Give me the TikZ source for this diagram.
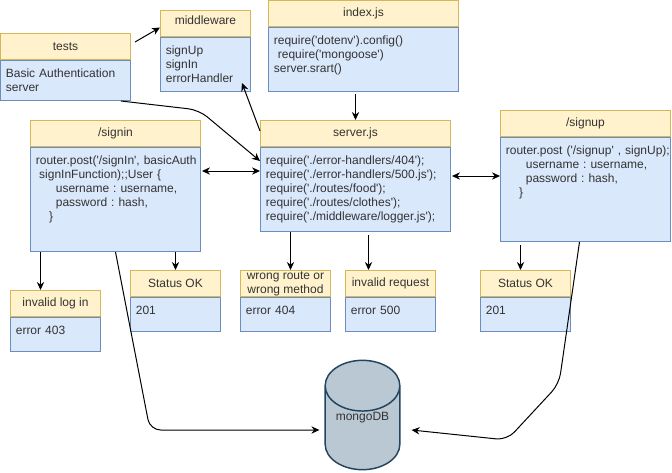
\documentclass[tikz,border=0pt]{standalone}
\usepackage{fontspec}
\setmainfont{Liberation Sans}[Ligatures=TeXOff]
\usetikzlibrary{positioning, arrows.meta, shapes.geometric}

\definecolor{headfill}{HTML}{FFF2CC}
\definecolor{headline}{HTML}{D6B656}
\definecolor{bodyfill}{HTML}{DAE8FC}
\definecolor{bodyline}{HTML}{6C8EBF}
\definecolor{dbfill}{HTML}{BAC8D3}
\definecolor{dbline}{HTML}{23445D}

\begin{document}
\begin{tikzpicture}[
            x=0.75pt, y=-0.75pt,
            every node/.style={font=\fontsize{9}{10.5}\selectfont\frenchspacing, text=black!80},
            head/.style={rectangle, draw=headline, fill=headfill, line width=0.75pt, align=center,
                inner sep=0pt, anchor=north west, minimum height=19.5pt, minimum width=#1*0.75pt},
            body/.style 2 args={rectangle, draw=bodyline, fill=bodyfill, line width=0.75pt, align=left,
                inner xsep=4pt, inner ysep=3pt, text width=#1*0.75pt-8pt, text height=10pt,
                text depth=#2*0.75pt-16pt},
            link/.style={-{Stealth[length=6pt, width=5.5pt]}, line width=0.75pt, black},
            both/.style={{Stealth[length=6pt, width=5.5pt]}-{Stealth[length=6pt, width=5.5pt]}, line width=0.75pt, black},
            bent/.style={link, rounded corners=8pt}
        ]
        \useasboundingbox (0,0) rectangle (672,472);

        % Top row
        \node[head=130] (testshead) at (0,33) {tests};
        \node[body={130}{40}, below=0pt of testshead] (testsbody) {Basic Authentication\\server};
        \node[head=90] (midhead) at (160,10) {\raisebox{4.5pt}{middleware}};
        \node[body={90}{54}, below=0pt of midhead] (midbody) {signUp\\signIn\\errorHandler};
        \node[head=190] (indexhead) at (268,0) {index.js};
        \node[body={190}{64}, below=0pt of indexhead] (indexbody) {require('dotenv').config()\\
            \hspace*{3pt}require('mongoose')\\server.srart()};

        % Middle row
        \node[head=170] (signinhead) at (30,120) {/signin};
        \node[body={170}{104}, below=0pt of signinhead] (signinbody) {\mbox{router.post('/signIn', basicAuth}\\
            \hspace*{2.5pt}signInFunction);;User \{\\
            \hspace*{15pt}username : username,\\
            \hspace*{15pt}password : hash,\\
            \hspace*{10pt}\}};
        \node[head=190] (serverhead) at (260,120) {server.js};
        \node[body={190}{84}, below=0pt of serverhead] (serverbody) {require('./error-handlers/404');\\
            require('./error-handlers/500.js');\\
            require('./routes/food');\\
            require('./routes/clothes');\\
            require('./middleware/logger.js');};
        \node[head=170] (signuphead) at (500,110) {/signup};
        \node[body={170}{104}, below=0pt of signuphead] (signupbody) {\mbox{router.post ('/signup' , signUp);}\\
            \hspace*{15pt}username : username,\\
            \hspace*{15pt}password : hash,\\
            \hspace*{10pt}\}};

        % Result boxes
        \node[head=90] (loginhead) at (10,290) {invalid log in};
        \node[body={90}{34}, below=0pt of loginhead] (loginbody) {error 403};
        \node[head=90] (okinhead) at (130,270) {Status OK};
        \node[body={90}{34}, below=0pt of okinhead] (okinbody) {201};
        \node[head=90] (routehead) at (240,270) {wrong route or\\wrong method};
        \node[body={90}{34}, below=0pt of routehead] (routebody) {error 404};
        \node[head=90] (reqhead) at (345,270) {invalid request};
        \node[body={90}{34}, below=0pt of reqhead] (reqbody) {error 500};
        \node[head=90] (okuphead) at (480,270) {Status OK};
        \node[body={90}{34}, below=0pt of okuphead] (okupbody) {201};

        % Database
        \node[cylinder, shape border rotate=90, shape aspect=0.95, draw=dbline, fill=dbfill, line width=1.1pt,
            minimum width=56pt, minimum height=82pt, inner sep=0pt, anchor=shape center] (mongo) at (362.5,415)
            {\raisebox{6pt}[0pt][0pt]{mongoDB}};

        % Free ends and bends
        \coordinate (teststart) at (135,42);
        \coordinate (testbend) at (199,110);
        \coordinate (signinbend) at (150,430);
        \coordinate (signupbend) at (559,384);
        \coordinate (signupbendb) at (507,440);

        \draw[link] (teststart) -- ([shift={(0,4)}]midhead.west);
        \draw[bent] ([shift={(-10,0)}]testsbody.south east) -- (testbend) -- ([shift={(0,14)}]serverbody.north west);
        \draw[link] ([shift={(0,-16)}]serverhead.south west) -- ([shift={(-9,-9)}]midbody.south east);
        \draw[both] ([shift={(1,24)}]signinbody.north east) -- ([shift={(0,24)}]serverbody.north west);
        \draw[link] ([shift={(-8,2)}]indexbody.south) -- (serverhead.north);
        \draw[both] ([shift={(1,29)}]serverbody.north east) -- ([shift={(0,39)}]signuphead.south west);
        \draw[link] ([shift={(-65,0)}]serverbody.south) -- ([shift={(5,0)}]routehead.north);
        \draw[link] ([shift={(13,3)}]serverbody.south) -- ([shift={(-22,0)}]reqhead.north);
        \draw[link] ([shift={(-75,0)}]signinbody.south) -- ([shift={(-15,0)}]loginhead.north);
        \draw[link] (okinhead.north |- signinbody.south) -- (okinhead.north);
        \draw[link] ([shift={(-65,3)}]signupbody.south) -- ([shift={(-5,0)}]okuphead.north);
        \draw[bent] (signinbody.south) -- (signinbend) -- ([shift={(-5,0)}]mongo.west |- signinbend);
        \draw[bent] ([shift={(-6,0)}]signupbody.south) -- (signupbend) -- (signupbendb) -- ([shift={(11,0)}]mongo.east |- signinbend);
\end{tikzpicture}
\end{document}
